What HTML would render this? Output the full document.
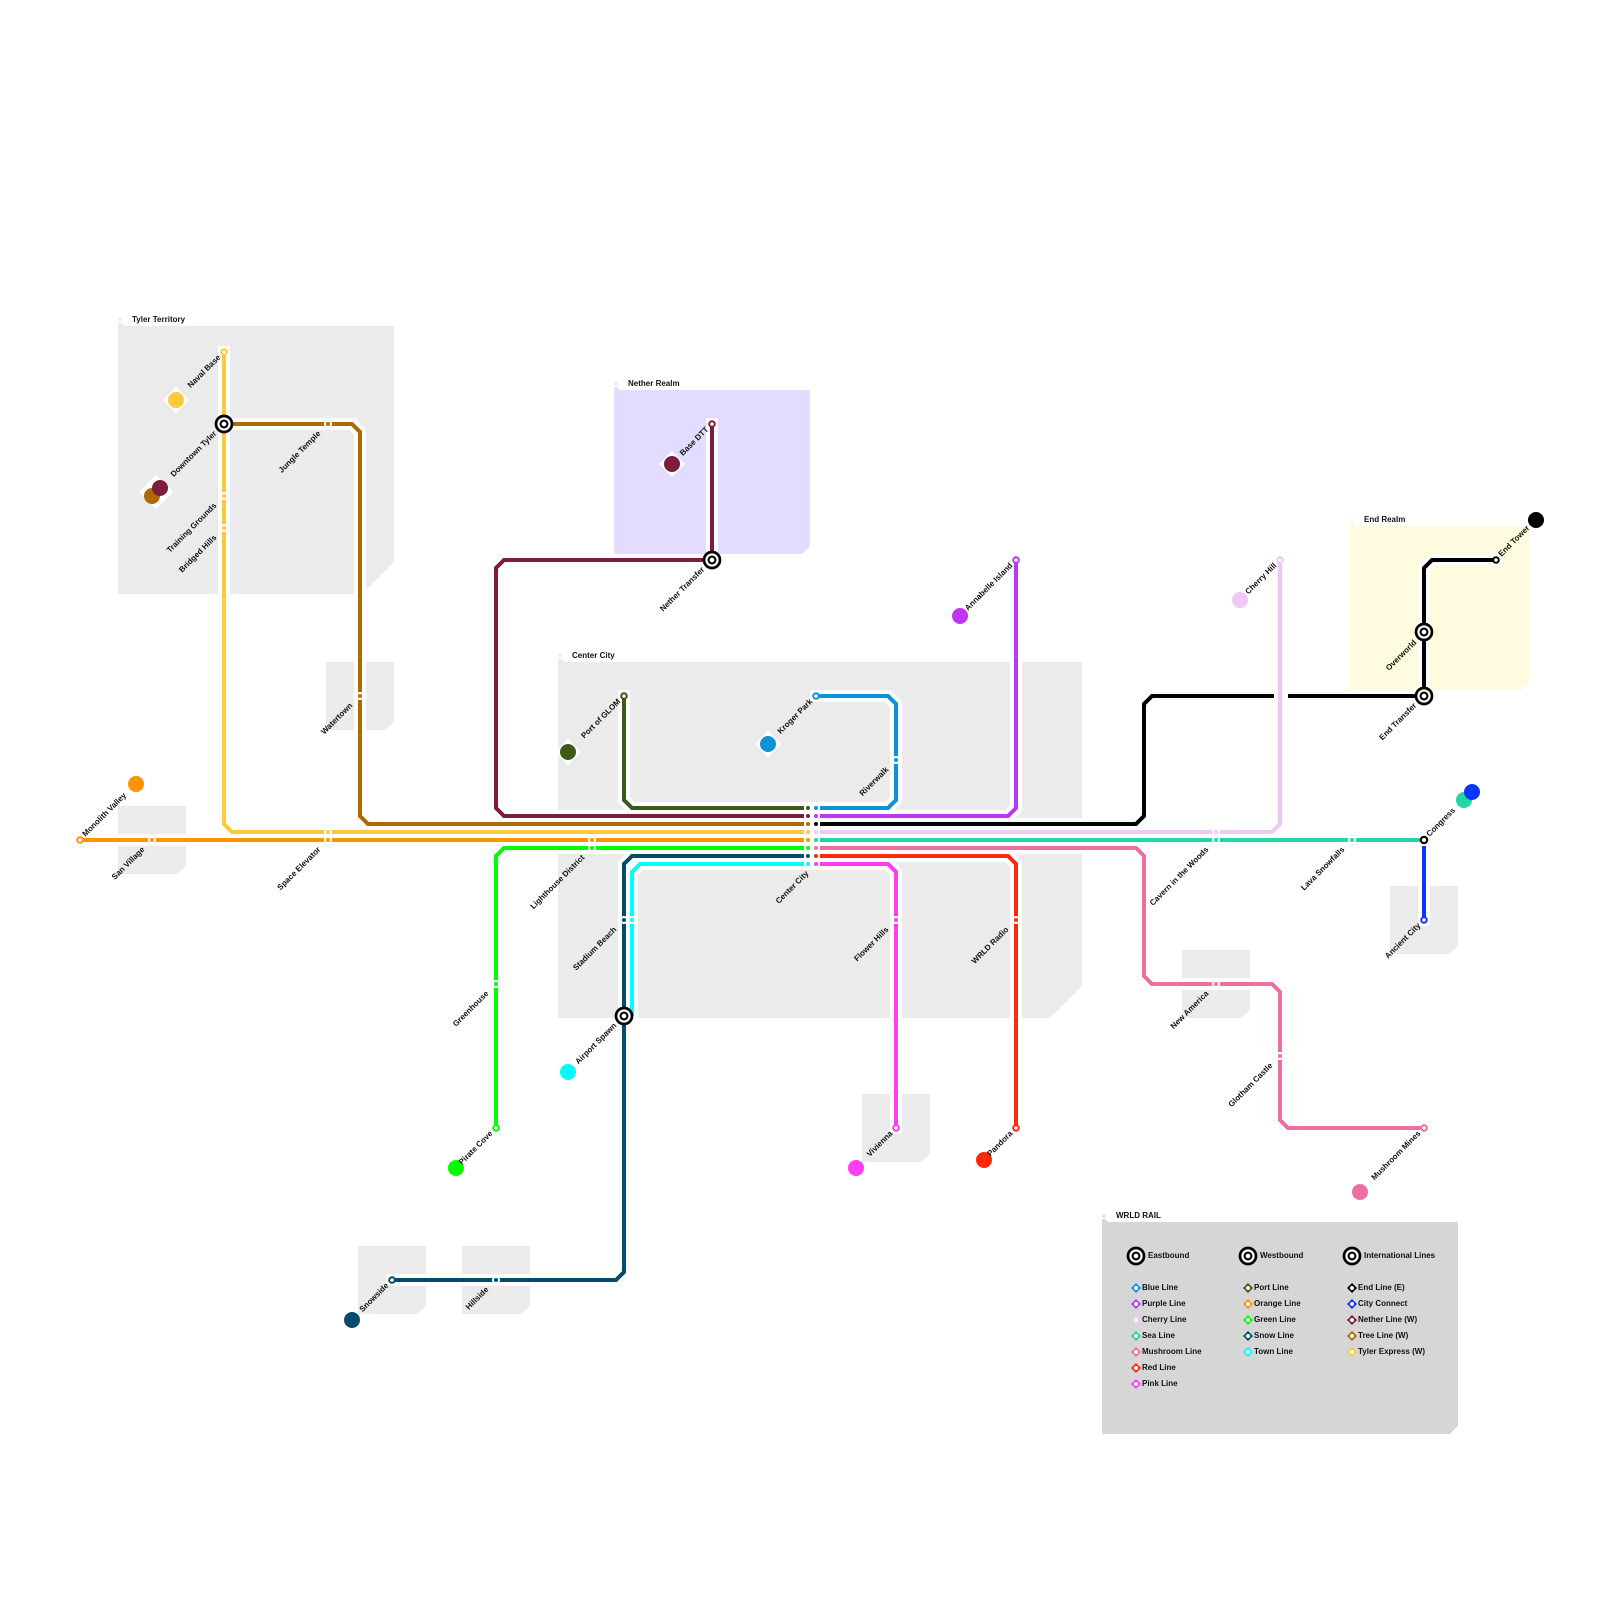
<!DOCTYPE html>
<html><head><meta charset="utf-8"><style>
html,body{margin:0;padding:0;background:#fff}
svg{display:block}
text{font:700 8px "Liberation Sans",sans-serif;fill:#111}
.r text{text-anchor:end}
.h path{fill:none;stroke:#fff;stroke-width:12;stroke-linecap:square;stroke-linejoin:miter}
.l path{fill:none;stroke-width:4;stroke-linejoin:miter}
</style></head><body>
<svg width="1600" height="1600" viewBox="0 0 1600 1600" xmlns="http://www.w3.org/2000/svg">
<rect width="1600" height="1600" fill="#fff"/>
<!-- regions -->
<g fill="#ebebeb">
<polygon points="118,326 394,326 394,562 362,594 118,594"/>
<polygon points="558,662 1082,662 1082,986 1050,1018 558,1018"/>
<polygon points="326,662 394,662 394,722 386,730 326,730"/>
<polygon points="118,806 186,806 186,866 178,874 118,874"/>
<polygon points="1390,886 1458,886 1458,946 1450,954 1390,954"/>
<polygon points="1182,950 1250,950 1250,1010 1242,1018 1182,1018"/>
<polygon points="862,1094 930,1094 930,1154 922,1162 862,1162"/>
<polygon points="358,1246 426,1246 426,1306 418,1314 358,1314"/>
<polygon points="462,1246 530,1246 530,1306 522,1314 462,1314"/>
<polygon points="118,326 118,323 121,323 124,326"/><polygon points="558,662 558,659 561,659 564,662"/>
</g>
<circle cx="120" cy="320" r="2" fill="#f0f0f0"/><circle cx="560" cy="656" r="2" fill="#f0f0f0"/>
<polygon points="614,390 810,390 810,546 802,554 614,554" fill="#e3dcff"/>
<polygon points="614,390 614,387 617,387 620,390" fill="#e3dcff"/>
<polygon points="1350,526 1530,526 1530,682 1522,690 1350,690" fill="#fffbdf"/>
<polygon points="1350,526 1350,523 1353,523 1356,526" fill="#fffbdf"/>
<polygon points="1102,1222 1458,1222 1458,1426 1450,1434 1102,1434" fill="#d6d6d6"/>
<polygon points="1102,1222 1102,1219 1105,1219 1108,1222" fill="#d6d6d6"/>
<circle cx="616" cy="384" r="2" fill="#f0edff"/><circle cx="1352" cy="520" r="2" fill="#fffce8"/><circle cx="1104" cy="1216" r="2" fill="#e4e4e4"/>
<text x="132" y="322">Tyler Territory</text>
<text x="628" y="386">Nether Realm</text>
<text x="572" y="658">Center City</text>
<text x="1364" y="522">End Realm</text>
<text x="1116" y="1218">WRLD RAIL</text>

<!-- destination markers -->
<g fill="#fff">
<polygon points="176,387 189,400 176,413 163,400"/>
<polygon points="156,475 173,492 156,509 139,492"/>
<polygon points="568,739 581,752 568,765 555,752"/>
<polygon points="672,451 685,464 672,477 659,464"/>
<polygon points="768,731 781,744 768,757 755,744"/>
</g>
<circle cx="176" cy="400" r="8" fill="#ffc93c"/>
<circle cx="152" cy="496" r="8" fill="#ac6a00"/>
<circle cx="160" cy="488" r="8" fill="#7b1c40"/>
<circle cx="568" cy="752" r="8" fill="#3c5a18"/>
<circle cx="136" cy="784" r="8" fill="#ff9400"/>
<circle cx="672" cy="464" r="8" fill="#7b1c40"/>
<circle cx="768" cy="744" r="8" fill="#0c92d8"/>
<circle cx="960" cy="616" r="8" fill="#be37f5"/>
<circle cx="1240" cy="600" r="8" fill="#f0c8f8"/>
<circle cx="1536" cy="520" r="8" fill="#000"/>
<circle cx="1464" cy="800" r="8" fill="#1ed6a8"/>
<circle cx="1472" cy="792" r="8" fill="#0a36ff"/>
<circle cx="456" cy="1168" r="8" fill="#00ff00"/>
<circle cx="568" cy="1072" r="8" fill="#00ffff"/>
<circle cx="352" cy="1320" r="8" fill="#024d6a"/>
<circle cx="856" cy="1168" r="8" fill="#ff3df2"/>
<circle cx="984" cy="1160" r="8" fill="#ff2a0a"/>
<circle cx="1360" cy="1192" r="8" fill="#ee6e9f"/>

<!-- halos -->
<g class="h">
<path d="M224 352V824L232 832H808"/>
<path d="M224 424H352L360 432V816L368 824H808"/>
<path d="M80 840H808"/>
<path d="M712 424V560H504L496 568V808L504 816H808"/>
<path d="M624 696V800L632 808H808"/>
<path d="M496 1128V856L504 848H808"/>
<path d="M392 1280H616L624 1272V864L632 856H808"/>
<path d="M632 1016V872L640 864H808"/>
<path d="M816 696H888L896 704V800L888 808H816"/>
<path d="M1016 560V808L1008 816H816"/>
<path d="M816 824H1136L1144 816V704L1152 696H1424V568L1432 560H1496"/>
<path d="M1280 560V824L1272 832H816"/>
<path d="M816 840H1424"/>
<path d="M816 848H1136L1144 856V976L1152 984H1272L1280 992V1120L1288 1128H1424"/>
<path d="M816 856H1008L1016 864V1128"/>
<path d="M816 864H888L896 872V1128"/>
<path d="M1424 840V920"/>
</g>
<!-- lines -->
<g class="l">
<path stroke="#ffc93c" d="M224 352V824L232 832H808"/>
<path stroke="#ac6a00" d="M224 424H352L360 432V816L368 824H808"/>
<path stroke="#ff9400" d="M80 840H808"/>
<path stroke="#7b1c40" d="M712 424V560H504L496 568V808L504 816H808"/>
<path stroke="#3c5a18" d="M624 696V800L632 808H808"/>
<path stroke="#00ff00" d="M496 1128V856L504 848H808"/>
<path stroke="#00ffff" d="M632 1016V872L640 864H808"/>
<path stroke="#024d6a" d="M392 1280H616L624 1272V864L632 856H808"/>
<path stroke="#0c92d8" d="M816 696H888L896 704V800L888 808H816"/>
<path stroke="#be37f5" d="M1016 560V808L1008 816H816"/>
<path stroke="#000" d="M816 824H1136L1144 816V704L1152 696H1424V568L1432 560H1496"/>
<rect x="1274" y="690" width="14" height="12" fill="#fff" stroke="none"/>
<path stroke="#f0c8f8" d="M1280 560V824L1272 832H816"/>
<path stroke="#1ed6a8" d="M816 840H1424"/>
<path stroke="#ee6e9f" d="M816 848H1136L1144 856V976L1152 984H1272L1280 992V1120L1288 1128H1424"/>
<path stroke="#ff2a0a" d="M816 856H1008L1016 864V1128"/>
<path stroke="#ff3df2" d="M816 864H888L896 872V1128"/>
<path stroke="#0a36ff" d="M1424 846V920"/>
</g>
<!-- white stop backings -->
<g fill="#fff">
<rect x="804" y="802" width="16" height="68"/>
<circle cx="224" cy="496" r="4"/><circle cx="224" cy="528" r="4"/><circle cx="328" cy="424" r="4"/><circle cx="360" cy="696" r="4"/>
<circle cx="152" cy="840" r="4"/><circle cx="328" cy="832" r="4"/><circle cx="328" cy="840" r="4"/>
<circle cx="592" cy="840" r="4"/><circle cx="592" cy="848" r="4"/><circle cx="496" cy="984" r="4"/>
<circle cx="624" cy="920" r="4"/><circle cx="632" cy="920" r="4"/><circle cx="496" cy="1280" r="4"/>
<circle cx="896" cy="760" r="4"/><circle cx="896" cy="920" r="4"/><circle cx="1016" cy="920" r="4"/>
<circle cx="1216" cy="832" r="4"/><circle cx="1216" cy="840" r="4"/><circle cx="1352" cy="840" r="4"/>
<circle cx="1216" cy="984" r="4"/><circle cx="1280" cy="1056" r="4"/>
</g>
<!-- stops -->
<circle cx="224" cy="496" r="2" fill="#ffc93c"/><circle cx="224" cy="528" r="2" fill="#ffc93c"/>
<circle cx="328" cy="424" r="2" fill="#ac6a00"/><circle cx="360" cy="696" r="2" fill="#ac6a00"/>
<circle cx="152" cy="840" r="2" fill="#ff9400"/><circle cx="328" cy="832" r="2" fill="#ffc93c"/><circle cx="328" cy="840" r="2" fill="#ff9400"/>
<circle cx="592" cy="840" r="2" fill="#ff9400"/><circle cx="592" cy="848" r="2" fill="#00ff00"/><circle cx="496" cy="984" r="2" fill="#00ff00"/>
<circle cx="624" cy="920" r="2" fill="#024d6a"/><circle cx="632" cy="920" r="2" fill="#00ffff"/><circle cx="496" cy="1280" r="2" fill="#024d6a"/>
<circle cx="896" cy="760" r="2" fill="#0c92d8"/><circle cx="896" cy="920" r="2" fill="#ff3df2"/><circle cx="1016" cy="920" r="2" fill="#ff2a0a"/>
<circle cx="1216" cy="832" r="2" fill="#f0c8f8"/><circle cx="1216" cy="840" r="2" fill="#1ed6a8"/><circle cx="1352" cy="840" r="2" fill="#1ed6a8"/>
<circle cx="1216" cy="984" r="2" fill="#ee6e9f"/><circle cx="1280" cy="1056" r="2" fill="#ee6e9f"/>
<circle cx="808" cy="808" r="2" fill="#3c5a18"/><circle cx="808" cy="816" r="2" fill="#7b1c40"/><circle cx="808" cy="824" r="2" fill="#ac6a00"/><circle cx="808" cy="832" r="2" fill="#ffc93c"/><circle cx="808" cy="840" r="2" fill="#ff9400"/><circle cx="808" cy="848" r="2" fill="#00ff00"/><circle cx="808" cy="856" r="2" fill="#024d6a"/><circle cx="808" cy="864" r="2" fill="#00ffff"/>
<circle cx="816" cy="808" r="2" fill="#0c92d8"/><circle cx="816" cy="816" r="2" fill="#be37f5"/><circle cx="816" cy="824" r="2" fill="#000"/><circle cx="816" cy="832" r="2" fill="#f0c8f8"/><circle cx="816" cy="840" r="2" fill="#1ed6a8"/><circle cx="816" cy="848" r="2" fill="#ee6e9f"/><circle cx="816" cy="856" r="2" fill="#ff2a0a"/><circle cx="816" cy="864" r="2" fill="#ff3df2"/>
<!-- terminals -->
<g fill="#fff" stroke-width="2">
<circle cx="224" cy="352" r="2.8" stroke="#ffc93c"/>
<circle cx="80" cy="840" r="2.8" stroke="#ff9400"/>
<circle cx="496" cy="1128" r="2.8" stroke="#00ff00"/>
<circle cx="624" cy="696" r="2.8" stroke="#3c5a18"/>
<circle cx="392" cy="1280" r="2.8" stroke="#024d6a"/>
<circle cx="712" cy="424" r="2.8" stroke="#7b1c40"/>
<circle cx="816" cy="696" r="2.8" stroke="#0c92d8"/>
<circle cx="896" cy="1128" r="2.8" stroke="#ff3df2"/>
<circle cx="1016" cy="1128" r="2.8" stroke="#ff2a0a"/>
<circle cx="1016" cy="560" r="2.8" stroke="#be37f5"/>
<circle cx="1280" cy="560" r="2.8" stroke="#f0c8f8"/>
<circle cx="1424" cy="920" r="2.8" stroke="#0a36ff"/>
<circle cx="1424" cy="1128" r="2.8" stroke="#ee6e9f"/>
<circle cx="1496" cy="560" r="2.8" stroke="#000"/>
<circle cx="1424" cy="840" r="3.2" stroke="#000" stroke-width="2.2"/>
</g>
<!-- interchanges -->
<g fill="#fff" stroke="#000">
<g transform="translate(224 424)"><circle r="8" stroke-width="2.7"/><circle r="3.4" stroke-width="2.1"/></g>
<g transform="translate(712 560)"><circle r="8" stroke-width="2.7"/><circle r="3.4" stroke-width="2.1"/></g>
<g transform="translate(624 1016)"><circle r="8" stroke-width="2.7"/><circle r="3.4" stroke-width="2.1"/></g>
<g transform="translate(1424 632)"><circle r="8" stroke-width="2.7"/><circle r="3.4" stroke-width="2.1"/></g>
<g transform="translate(1424 696)"><circle r="8" stroke-width="2.7"/><circle r="3.4" stroke-width="2.1"/></g>
<g transform="translate(1136 1256)"><circle r="8" stroke-width="2.7"/><circle r="3.4" stroke-width="2.1"/></g>
<g transform="translate(1248 1256)"><circle r="8" stroke-width="2.7"/><circle r="3.4" stroke-width="2.1"/></g>
<g transform="translate(1352 1256)"><circle r="8" stroke-width="2.7"/><circle r="3.4" stroke-width="2.1"/></g>
</g>
<!-- station labels -->
<g class="r">
<text transform="translate(221 358) rotate(-45)">Naval Base</text>
<text transform="translate(217 434) rotate(-45)">Downtown Tyler</text>
<text transform="translate(321 434) rotate(-45)">Jungle Temple</text>
<text transform="translate(217 506) rotate(-45)">Training Grounds</text>
<text transform="translate(217 538) rotate(-45)">Bridged Hills</text>
<text transform="translate(353 706) rotate(-45)">Watertown</text>
<text transform="translate(145 850) rotate(-45)">San Village</text>
<text transform="translate(321 850) rotate(-45)">Space Elevator</text>
<text transform="translate(585 858) rotate(-45)">Lighthouse District</text>
<text transform="translate(489 994) rotate(-45)">Greenhouse</text>
<text transform="translate(493 1134) rotate(-45)">Pirate Cove</text>
<text transform="translate(621 702) rotate(-45)">Port of GLOM</text>
<text transform="translate(617 930) rotate(-45)">Stadium Beach</text>
<text transform="translate(617 1026) rotate(-45)">Airport Spawn</text>
<text transform="translate(389 1286) rotate(-45)">Snowside</text>
<text transform="translate(489 1290) rotate(-45)">Hillside</text>
<text transform="translate(705 570) rotate(-45)">Nether Transfer</text>
<text transform="translate(709 430) rotate(-45)">Base DTT</text>
<text transform="translate(813 702) rotate(-45)">Kroger Park</text>
<text transform="translate(889 770) rotate(-45)">Riverwalk</text>
<text transform="translate(809 874) rotate(-45)">Center City</text>
<text transform="translate(889 930) rotate(-45)">Flower Hills</text>
<text transform="translate(893 1134) rotate(-45)">Vivienna</text>
<text transform="translate(1009 930) rotate(-45)">WRLD Radio</text>
<text transform="translate(1013 1134) rotate(-45)">Pandora</text>
<text transform="translate(1013 566) rotate(-45)">Annabelle Island</text>
<text transform="translate(1277 566) rotate(-45)">Cherry Hill</text>
<text transform="translate(1209 850) rotate(-45)">Cavern in the Woods</text>
<text transform="translate(1345 850) rotate(-45)">Lava Snowfalls</text>
<text transform="translate(1421 926) rotate(-45)">Ancient City</text>
<text transform="translate(1209 994) rotate(-45)">New America</text>
<text transform="translate(1273 1066) rotate(-45)">Glotham Castle</text>
<text transform="translate(1421 1134) rotate(-45)">Mushroom Mines</text>
<text transform="translate(1417 643) rotate(-45)">Overworld</text>
<text transform="translate(1417 706) rotate(-45)">End Transfer</text>
</g>
<text transform="translate(85.5 837) rotate(-45)">Monolith Valley</text>
<text transform="translate(1429.5 837) rotate(-45)">Congress</text>
<text transform="translate(1501.5 557) rotate(-45)">End Tower</text>
<!-- legend -->
<text x="1148" y="1258">Eastbound</text>
<text x="1260" y="1258">Westbound</text>
<text x="1364" y="1258">International Lines</text>
<g>
<polygon points="1136,1283 1141,1288 1136,1293 1131,1288" fill="#0c92d8"/>
<polygon points="1136,1299 1141,1304 1136,1309 1131,1304" fill="#be37f5"/>
<polygon points="1136,1315 1141,1320 1136,1325 1131,1320" fill="#f0c8f8"/>
<polygon points="1136,1331 1141,1336 1136,1341 1131,1336" fill="#1ed6a8"/>
<polygon points="1136,1347 1141,1352 1136,1357 1131,1352" fill="#ee6e9f"/>
<polygon points="1136,1363 1141,1368 1136,1373 1131,1368" fill="#ff2a0a"/>
<polygon points="1136,1379 1141,1384 1136,1389 1131,1384" fill="#ff3df2"/>
<polygon points="1248,1283 1253,1288 1248,1293 1243,1288" fill="#3c5a18"/>
<polygon points="1248,1299 1253,1304 1248,1309 1243,1304" fill="#ff9400"/>
<polygon points="1248,1315 1253,1320 1248,1325 1243,1320" fill="#00ff00"/>
<polygon points="1248,1331 1253,1336 1248,1341 1243,1336" fill="#024d6a"/>
<polygon points="1248,1347 1253,1352 1248,1357 1243,1352" fill="#00ffff"/>
<polygon points="1352,1283 1357,1288 1352,1293 1347,1288" fill="#000"/>
<polygon points="1352,1299 1357,1304 1352,1309 1347,1304" fill="#0a36ff"/>
<polygon points="1352,1315 1357,1320 1352,1325 1347,1320" fill="#7b1c40"/>
<polygon points="1352,1331 1357,1336 1352,1341 1347,1336" fill="#ac6a00"/>
<polygon points="1352,1347 1357,1352 1352,1357 1347,1352" fill="#ffc93c"/>
</g>
<g fill="#fff">
<circle cx="1136" cy="1288" r="2"/><circle cx="1136" cy="1304" r="2"/><circle cx="1136" cy="1320" r="2"/><circle cx="1136" cy="1336" r="2"/><circle cx="1136" cy="1352" r="2"/><circle cx="1136" cy="1368" r="2"/><circle cx="1136" cy="1384" r="2"/>
<circle cx="1248" cy="1288" r="2"/><circle cx="1248" cy="1304" r="2"/><circle cx="1248" cy="1320" r="2"/><circle cx="1248" cy="1336" r="2"/><circle cx="1248" cy="1352" r="2"/>
<circle cx="1352" cy="1288" r="2"/><circle cx="1352" cy="1304" r="2"/><circle cx="1352" cy="1320" r="2"/><circle cx="1352" cy="1336" r="2"/><circle cx="1352" cy="1352" r="2"/>
</g>
<text x="1142" y="1290">Blue Line</text>
<text x="1142" y="1306">Purple Line</text>
<text x="1142" y="1322">Cherry Line</text>
<text x="1142" y="1338">Sea Line</text>
<text x="1142" y="1354">Mushroom Line</text>
<text x="1142" y="1370">Red Line</text>
<text x="1142" y="1386">Pink Line</text>
<text x="1254" y="1290">Port Line</text>
<text x="1254" y="1306">Orange Line</text>
<text x="1254" y="1322">Green Line</text>
<text x="1254" y="1338">Snow Line</text>
<text x="1254" y="1354">Town Line</text>
<text x="1358" y="1290">End Line (E)</text>
<text x="1358" y="1306">City Connect</text>
<text x="1358" y="1322">Nether Line (W)</text>
<text x="1358" y="1338">Tree Line (W)</text>
<text x="1358" y="1354">Tyler Express (W)</text>
</svg>
</body></html>
